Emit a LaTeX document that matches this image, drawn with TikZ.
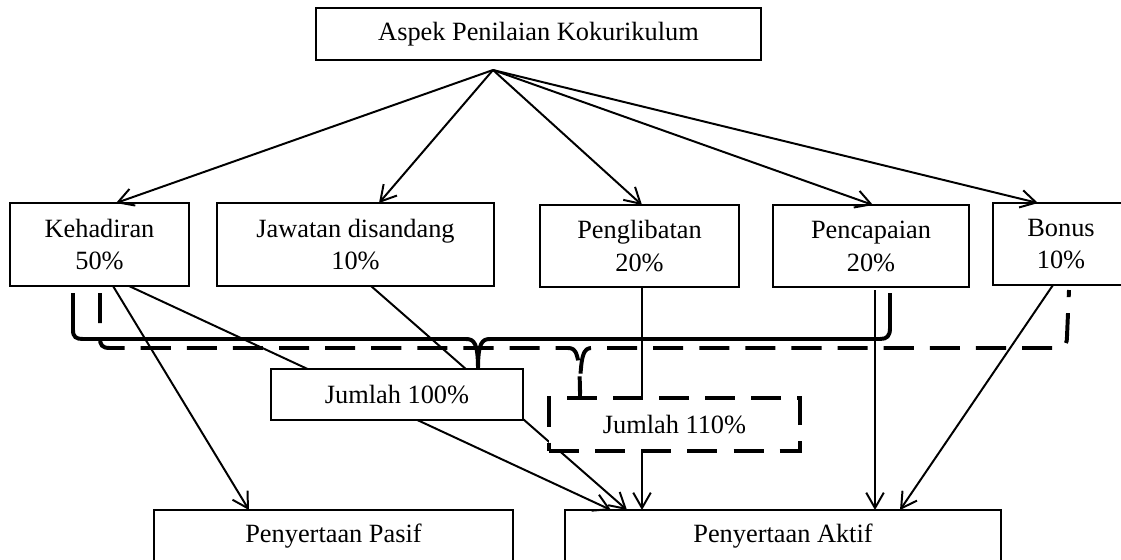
\documentclass[tikz,border=0pt]{standalone}
\usepackage{fontspec}
\setmainfont{Liberation Serif}
\usetikzlibrary{arrows.meta}

\begin{document}
\begin{tikzpicture}[x=0.016cm, y=-0.016cm,
  box/.style={draw, line width=0.7pt, fill=white, inner sep=0pt, outer sep=0pt, align=center, font=\fontsize{12}{15}\selectfont},
  arr/.style={-{Straight Barb[length=7pt,width=8pt]}, line width=0.9pt},
  brc/.style={line width=1.8pt},
  dsh/.style={dash pattern=on 13.7pt off 7.3pt}]
\useasboundingbox (0,0) rectangle (1121,559);
% aspek
\node[box, minimum width=7.12cm, minimum height=0.832cm] (aspek) at (538.5,34) {Aspek Penilaian Kokurikulum};
\coordinate (apex) at (493,70);
% komponen
\node[box, minimum width=2.864cm, minimum height=1.328cm] (keh) at (99.5,244.5) {Kehadiran\\50\%};
\node[box, minimum width=4.432cm, minimum height=1.328cm] (jaw) at (355.5,244.5) {Jawatan disandang\\10\%};
\node[box, minimum width=3.184cm, minimum height=1.312cm] (pgl) at (639.5,246) {Penglibatan\\20\%};
\node[box, minimum width=3.136cm, minimum height=1.312cm] (pcp) at (871,246) {Pencapaian\\20\%};
\node[box, minimum width=2.176cm, minimum height=1.312cm] (bon) at (1061,244) {Bonus\\10\%};
% penyertaan
\node[box, minimum width=5.744cm, minimum height=0.832cm] (pasif) at (333.5,536) {Penyertaan Pasif};
\node[box, minimum width=6.976cm, minimum height=0.832cm] (aktif) at (783,536) {Penyertaan Aktif};

\foreach \n/\x in {keh/116, jaw/379, pgl/642, pcp/873, bon/1038}
  \draw[arr] (apex) -- (\x,0 |- \n.north);

\draw[arr] (113,0 |- keh.south) -- (249,0 |- pasif.north);
\draw[arr] (129,0 |- keh.south) -- (611,0 |- aktif.north);
\draw[arr] (371,0 |- jaw.south) -- (627,0 |- aktif.north);
\draw[arr] (642,0 |- pgl.south) -- (642,0 |- aktif.north);
\draw[arr] (875,290) -- (875,0 |- aktif.north);
\draw[arr] (1053,0 |- bon.south) -- (900,0 |- aktif.north);

% jumlah
\node[box, minimum width=4.032cm, minimum height=0.816cm] (j100) at (397,394.5) {Jumlah 100\%};
\node[box, dsh, line width=1.8pt, minimum width=4.016cm, minimum height=0.848cm] (j110) at (674.5,424.5) {Jumlah 110\%};

\draw[brc] (73,293) -- (73,330) .. controls (73,337) and (76,339) .. (83,339) -- (466,339)
  .. controls (474,339) and (478,343) .. (478,0 |- j100.north)
  .. controls (478,343) and (482,339) .. (490,339) -- (880,339)
  .. controls (887,339) and (890,336) .. (890,328) -- (890,293);
\draw[brc, dsh] (100,293) -- (100,338) .. controls (100,345) and (102,348) .. (110,348) -- (568,348)
  .. controls (576,348) and (580,352) .. (580,0 |- j110.north)
  .. controls (580,352) and (584,348) .. (592,348) -- (1058,348)
  .. controls (1065,348) and (1067,344) .. (1067,336) -- (1069,290);
\end{tikzpicture}
\end{document}
